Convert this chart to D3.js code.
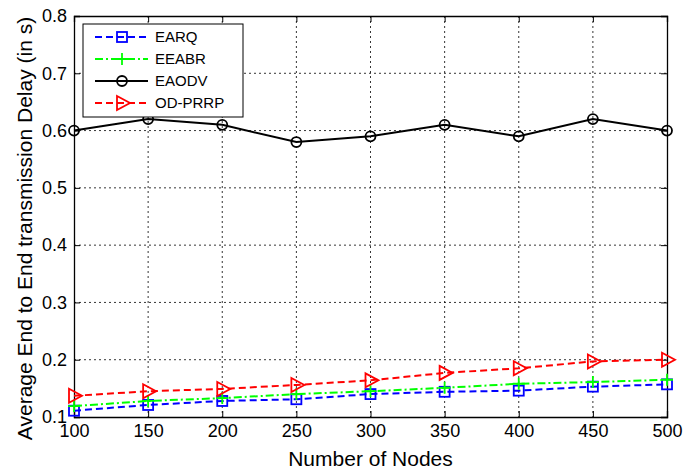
<!DOCTYPE html>
<html>
<head>
<meta charset="utf-8">
<script src="https://cdn.jsdelivr.net/npm/d3@7"></script>
<style>
  body { margin: 0; background: #fff; }
  text { font-family: "Liberation Sans", Arial, sans-serif; }
</style>
</head>
<body>
<div id="chart"></div>
<script>
// data
var nodes = [100, 150, 200, 250, 300, 350, 400, 450, 500];
var earq = [0.111, 0.121, 0.128, 0.131, 0.140, 0.144, 0.146, 0.153, 0.157];
var eeabr = [0.119, 0.128, 0.133, 0.140, 0.145, 0.151, 0.158, 0.161, 0.165];
var eaodv = [0.60, 0.62, 0.61, 0.58, 0.59, 0.61, 0.59, 0.62, 0.60];
var odprrp = [0.137, 0.145, 0.149, 0.156, 0.164, 0.177, 0.185, 0.197, 0.200];
var yTicks = [0.1, 0.2, 0.3, 0.4, 0.5, 0.6, 0.7, 0.8];

var margin = { top: 16, right: 17, bottom: 53, left: 74 },
  width = 684 - margin.left - margin.right,
  height = 470 - margin.top - margin.bottom;

var svg = d3.select("#chart")
  .append("svg")
  .attr("width", 684)
  .attr("height", 470)
  .append("g")
  .attr("transform", "translate(" + margin.left + "," + margin.top + ")");

var x = d3.scaleLinear().domain([100, 500]).range([0, width]);
var y = d3.scaleLinear().domain([0.1, 0.8]).range([height, 0]);

// grid lines
svg.append("g").selectAll("line")
  .data(nodes.slice(1, -1))
  .enter().append("line")
  .attr("x1", d => x(d)).attr("x2", d => x(d))
  .attr("y1", 0).attr("y2", height)
  .attr("stroke", "#000").attr("stroke-width", 0.8)
  .attr("stroke-dasharray", "2,3");
svg.append("g").selectAll("line")
  .data(yTicks.slice(1, -1))
  .enter().append("line")
  .attr("x1", 0).attr("x2", width)
  .attr("y1", d => y(d)).attr("y2", d => y(d))
  .attr("stroke", "#000").attr("stroke-width", 0.8)
  .attr("stroke-dasharray", "2,3");

// axes (ticks inside, matlab style)
var xAxis = svg.append("g")
  .attr("transform", "translate(0," + height + ")")
  .call(d3.axisBottom(x).tickValues(nodes).tickSize(-6).tickPadding(7).tickFormat(d3.format("d")));
var xTop = svg.append("g")
  .call(d3.axisTop(x).tickValues(nodes).tickSize(-6).tickFormat(""));
var yAxis = svg.append("g")
  .call(d3.axisLeft(y).tickValues(yTicks).tickSize(-6).tickPadding(7).tickFormat(d3.format(".1f")));
var yRight = svg.append("g")
  .attr("transform", "translate(" + width + ",0)")
  .call(d3.axisRight(y).tickValues(yTicks).tickSize(-6).tickFormat(""));

[xAxis, xTop, yAxis, yRight].forEach(function (g) {
  g.select(".domain").attr("stroke", "#000").attr("stroke-width", 1.3);
  g.selectAll(".tick line").attr("stroke", "#000");
  g.selectAll("text").attr("fill", "#000").style("font-size", "18px")
    .style("font-family", "'Liberation Sans', Arial, sans-serif");
});

// series
var series = [
  { name: "EARQ", values: earq, color: "#0000ff", dash: "7,4", marker: "square" },
  { name: "EEABR", values: eeabr, color: "#00ff00", dash: "8,3,2,3", marker: "plus" },
  { name: "EAODV", values: eaodv, color: "#000000", dash: null, marker: "circle" },
  { name: "OD-PRRP", values: odprrp, color: "#ff0000", dash: "7,4", marker: "triangle" }
];

var line = d3.line()
  .x(function (d, i) { return x(nodes[i]); })
  .y(function (d) { return y(d); });

function drawMarker(g, type, cx, cy, color) {
  if (type == "square") {
    g.append("rect").attr("x", cx - 5).attr("y", cy - 5).attr("width", 10).attr("height", 10)
      .attr("fill", "none").attr("stroke", color).attr("stroke-width", 1.8);
  } else if (type == "plus") {
    g.append("path").attr("d", "M" + (cx - 6) + "," + cy + "H" + (cx + 6) + "M" + cx + "," + (cy - 6) + "V" + (cy + 6))
      .attr("stroke", color).attr("stroke-width", 1.8);
  } else if (type == "circle") {
    g.append("circle").attr("cx", cx).attr("cy", cy).attr("r", 5)
      .attr("fill", "none").attr("stroke", color).attr("stroke-width", 1.8);
  } else {
    g.append("path").attr("d", "M" + (cx - 5) + "," + (cy - 7) + "L" + (cx + 8) + "," + cy + "L" + (cx - 5) + "," + (cy + 7) + "Z")
      .attr("fill", "none").attr("stroke", color).attr("stroke-width", 1.8);
  }
}

series.forEach(function (s) {
  svg.append("path")
    .datum(s.values)
    .attr("d", line)
    .attr("fill", "none")
    .attr("stroke", s.color)
    .attr("stroke-width", 2)
    .attr("stroke-dasharray", s.dash);
  var mg = svg.append("g");
  s.values.forEach(function (v, i) {
    drawMarker(mg, s.marker, x(nodes[i]), y(v), s.color);
  });
});

// legend
var legend = svg.append("g").attr("transform", "translate(9,8)");
legend.append("rect")
  .attr("width", 160).attr("height", 93)
  .attr("fill", "#fff").attr("stroke", "#000").attr("stroke-width", 1);
series.forEach(function (s, i) {
  var ly = 13 + i * 22;
  legend.append("line")
    .attr("x1", 12).attr("x2", 65).attr("y1", ly).attr("y2", ly)
    .attr("stroke", s.color).attr("stroke-width", 2)
    .attr("stroke-dasharray", s.dash);
  drawMarker(legend, s.marker, 39, ly, s.color);
  legend.append("text")
    .attr("x", 72).attr("y", ly).attr("dy", "0.35em")
    .style("font-size", "15px")
    .text(s.name);
});

// axis labels
svg.append("text")
  .attr("x", width / 2)
  .attr("y", height + 49)
  .attr("text-anchor", "middle")
  .style("font-size", "21px")
  .text("Number of Nodes");

svg.append("text")
  .attr("transform", "rotate(-90)")
  .attr("x", -(height / 2 + 12))
  .attr("y", -42)
  .attr("text-anchor", "middle")
  .style("font-size", "21px")
  .text("Average End to End transmission Delay (in s)");
</script>
</body>
</html>
